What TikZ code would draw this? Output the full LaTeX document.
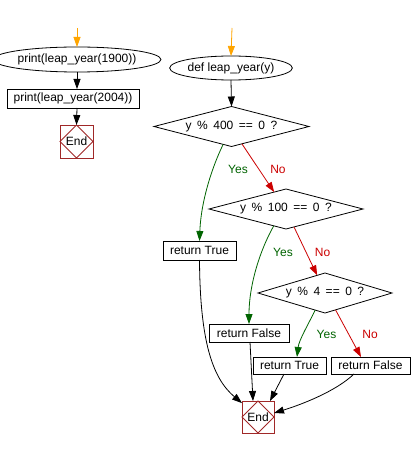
\documentclass[tikz,border=0pt]{standalone}
\usepackage{fontspec}
\setmainfont{Liberation Sans}
\usetikzlibrary{arrows.meta,shapes.geometric,calc}
\definecolor{fgreen}{RGB}{0,100,0}
\definecolor{fred}{RGB}{204,0,0}
\definecolor{endred}{RGB}{160,40,40}
\definecolor{forange}{RGB}{255,165,0}
\newcommand{\widesp}{\spaceskip=5.5pt\relax}
\begin{document}
\begin{tikzpicture}[x=1pt,y=-1pt,
  font=\fontsize{12}{14}\selectfont,
  every node/.style={inner sep=0pt, outer sep=0pt},
  conn/.style={line width=0.8pt, -{Triangle[length=10pt,width=7pt]}},
  yesline/.style={conn, draw=fgreen},
  noline/.style={conn, draw=fred},
  blackline/.style={conn, draw=black},
  startline/.style={conn, draw=forange},
  oval/.style={ellipse, draw, line width=0.8pt},
  proc/.style={rectangle, draw, line width=0.8pt},
  decide/.style={diamond, draw, line width=0.8pt, shape aspect=3.9},
  endbox/.style={rectangle, draw=endred, line width=0.8pt, minimum width=33pt, minimum height=33pt},
  yeslbl/.style={text=fgreen},
  nolbl/.style={text=fred}
]
\useasboundingbox (0,0) rectangle (412,449);
\fill[white] (0,0) rectangle (412,449);

% left column
\coordinate (s1) at (77,28);
\node[oval, minimum width=142pt, minimum height=25pt] (p1) at (77,59.5) {print(leap\_year(1900))};
\node[proc, minimum width=132pt, minimum height=19pt] (p2) at (73,98.5) {print(leap\_year(2004))};
\node[endbox] (e1) at (76.5,141.5) {End};
\draw[endred, line width=0.8pt] (e1.north) -- (e1.east) -- (e1.south) -- (e1.west) -- cycle;

\draw[startline] (s1) -- (p1.north);
\draw[blackline] (p1.south) -- ($(p2.north)+(4,0)$);
\draw[blackline] ($(p2.south)+(4,0)$) -- (e1.north);

% right column
\coordinate (s2) at (232,28);
\node[oval, minimum width=108pt, minimum height=24pt] (f) at (231,68) {def leap\_year(y)};
\node[decide, minimum width=155pt, minimum height=40pt] (d1) at (231.5,126.5) {\widesp y \% 400 == 0 ?};
\node[decide, minimum width=154pt, minimum height=40pt] (d2) at (286,209) {\widesp y \% 100 == 0 ?};
\node[decide, minimum width=134pt, minimum height=40pt] (d3) at (325,293) {\widesp y \% 4 == 0 ?};
\node[proc, minimum width=73pt, minimum height=19pt] (r1) at (199.5,250.5) {return True};
\node[proc, minimum width=80pt, minimum height=18pt] (r2) at (249,333) {return False};
\node[proc, minimum width=73pt, minimum height=17pt] (r3) at (289.5,365.5) {return True};
\node[proc, minimum width=79pt, minimum height=17pt] (r4) at (370.5,365.5) {return False};
\node[endbox, minimum width=32pt, minimum height=32pt] (e2) at (258,417) {End};
\draw[endred, line width=0.8pt] (e2.north) -- (e2.east) -- (e2.south) -- (e2.west) -- cycle;

\draw[startline] (s2) -- (f.north);
\draw[blackline] (f.south) -- (d1.north);

% decisions
\draw[yesline] (d1.245) .. controls (213,165) and (201,200) .. (r1.north);
\draw[noline] (d1.301) -- (d2.125);
\draw[yesline] (d2.234) .. controls (260,250) and (249,285) .. (r2.north);
\draw[noline] (d2.294) -- (d3.114);
\draw[yesline] (d3.240) .. controls (308,325) and (299,340) .. ($(r3.north)+(7.5,0)$);
\draw[noline] (d3.302) -- ($(r4.north)+(-9.5,0)$);

\node[yeslbl] (y1) at (238,169) {Yes};
\node[nolbl] (n1) at (278,169) {No};
\node[yeslbl] (y2) at (283,252) {Yes};
\node[nolbl] (n2) at (322.5,252) {No};
\node[yeslbl] (y3) at (326.5,334) {Yes};
\node[nolbl] (n3) at (370,334) {No};

% to End
\draw[blackline] (r1.south) .. controls (200,340) and (212,378) .. (e2.139);
\draw[blackline] ($(r2.south)+(1,0)$) -- ($(e2.north)+(-5,0)$);
\draw[blackline] ($(r3.south)+(-5.5,0)$) -- ($(e2.north)+(12,0)$);
\draw[blackline] ($(r4.south)+(-16.5,0)$) .. controls (335,392) and (300,405) .. (e2.14);
\end{tikzpicture}
\end{document}
